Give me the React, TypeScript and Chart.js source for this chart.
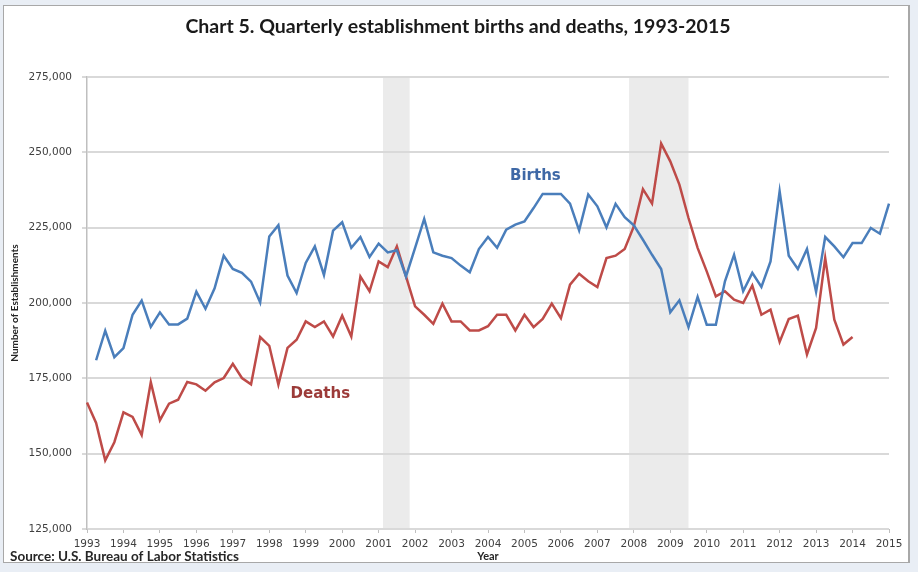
import React, { useEffect, useRef } from 'react';
import { Chart, registerables } from 'chart.js';

Chart.register(...registerables);

// ---- Data ----
const FIRST_YEAR = 1993;
const LAST_YEAR = 2015;
const QUARTER_COUNT = 89; // 1993 Q1 .. 2015 Q1

// Establishment births, quarterly, 1993 Q2 .. 2015 Q1
const BIRTHS = [
  181000, 190800, 182000, 185000, 196100, 200800, 192100, 196900, 192900, 192900,
  194800, 203800, 198100, 204900, 215700, 211300, 210000, 207100, 200200, 222100,
  225800, 209100, 203300, 213300, 218800, 209300, 224000, 226800, 218300, 221900,
  215300, 219700, 216800, 217500, 208800, 218300, 227900, 216800, 215700, 214900,
  212400, 210200, 217900, 221900, 218300, 224300, 226000, 227100, 231500, 236200,
  236200, 236200, 233000, 224100, 236000, 232100, 225100, 232900, 228500, 225800,
  221000, 216000, 211300, 196900, 200900, 192000, 202000, 192800, 192800, 207200,
  216000, 203900, 210000, 205300, 213800, 237100, 215700, 211300, 217900, 203700,
  221900, 218800, 215200, 219900, 219900, 224900, 223000, 233000,
];

// Establishment deaths, quarterly, 1993 Q1 .. 2014 Q1
const DEATHS = [
  167000, 160200, 147800, 153800, 163700, 162200, 156200, 173700, 161100, 166600,
  167900, 173800, 173000, 170900, 173700, 175100, 179800, 175100, 173000, 188700,
  185800, 172900, 185100, 187800, 193900, 192000, 193900, 188900, 195800, 188900,
  208800, 203900, 213800, 211900, 218800, 208800, 198900, 196100, 193100, 199800,
  193900, 193900, 190900, 190900, 192300, 196100, 196100, 190900, 196100, 192000,
  194700, 199800, 195000, 206100, 209700, 207200, 205300, 214900, 215700, 217900,
  225400, 237800, 233000, 252900, 247000, 239300, 228200, 218300, 210500, 202200,
  203900, 201100, 200000, 205800, 196100, 197800, 187100, 194700, 195800, 182900,
  191700, 214900, 194500, 186200, 188700,
];

// Recessions (fractional years)
const RECESSION_STARTS = [2001.12, 2007.87];
const RECESSION_ENDS = [2001.85, 2009.5];

const Y_MIN = 125000;
const Y_MAX = 275000;
const Y_STEP = 25000;

// Series label anchors (quarter index, value)
const BIRTHS_LABEL_AT = [49.2, 242200];
const DEATHS_LABEL_AT = [25.6, 169700];

const TITLE = 'Chart 5. Quarterly establishment births and deaths, 1993-2015';
const SOURCE = 'Source: U.S. Bureau of Labor Statistics';

// ---- Derived tables ----
const QUARTERS: string[] = [];
for (let y = FIRST_YEAR; y <= LAST_YEAR; y++) {
  for (let q = 1; q <= 4; q++) QUARTERS.push(`${y} Q${q}`);
}
const LABELS = QUARTERS.slice(0, QUARTER_COUNT);
const BIRTHS_SERIES = [null, ...BIRTHS];
const DEATHS_SERIES = [...DEATHS];

const BLUE = '#4a7ebb';
const RED = '#be4b48';
const FONT = 'Lato, "DejaVu Sans", sans-serif';
const WIDE = '"DejaVu Sans", sans-serif';

const overlay = {
  id: 'overlay',
  beforeDraw(chart: any) {
    const { ctx, chartArea, scales } = chart;
    ctx.save();
    ctx.fillStyle = '#ebebeb';
    for (let i = 0; i < RECESSION_STARTS.length; i++) {
      const a = scales.x.getPixelForValue((RECESSION_STARTS[i] - FIRST_YEAR) * 4);
      const b = scales.x.getPixelForValue((RECESSION_ENDS[i] - FIRST_YEAR) * 4);
      ctx.fillRect(a, chartArea.top, b - a, chartArea.bottom - chartArea.top);
    }
    ctx.restore();
  },
  afterDatasetsDraw(chart: any) {
    const { ctx, scales } = chart;
    ctx.save();
    ctx.textAlign = 'center';
    ctx.textBaseline = 'middle';
    ctx.font = `bold 15px ${WIDE}`;
    ctx.fillStyle = '#3e68a6';
    ctx.fillText('Births', scales.x.getPixelForValue(BIRTHS_LABEL_AT[0]), scales.y.getPixelForValue(BIRTHS_LABEL_AT[1]));
    ctx.fillStyle = '#9c3b39';
    ctx.fillText('Deaths', scales.x.getPixelForValue(DEATHS_LABEL_AT[0]), scales.y.getPixelForValue(DEATHS_LABEL_AT[1]));
    ctx.restore();
  },
  afterDraw(chart: any) {
    const { ctx } = chart;
    ctx.save();
    ctx.textBaseline = 'middle';
    ctx.textAlign = 'center';
    ctx.font = `bold 19.5px ${FONT}`;
    ctx.fillStyle = '#1a1a1a';
    ctx.fillText(TITLE, 458, 27);
    ctx.textAlign = 'left';
    ctx.font = `bold 13.5px ${FONT}`;
    ctx.fillStyle = '#262626';
    ctx.fillText(SOURCE, 10, 557);
    ctx.restore();
  },
};

export default function App() {
  const ref = useRef<HTMLCanvasElement>(null);

  useEffect(() => {
    if (!ref.current) return;
    const chart = new Chart(ref.current, {
      type: 'line',
      data: {
        labels: LABELS,
        datasets: [
          {
            label: 'Births',
            data: BIRTHS_SERIES,
            borderColor: BLUE,
            backgroundColor: BLUE,
            borderWidth: 2.5,
            pointRadius: 0,
            tension: 0,
          },
          {
            label: 'Deaths',
            data: DEATHS_SERIES,
            borderColor: RED,
            backgroundColor: RED,
            borderWidth: 2.5,
            pointRadius: 0,
            tension: 0,
          },
        ],
      },
      options: {
        responsive: false,
        animation: false,
        layout: { padding: { top: 77, right: 29, bottom: 0, left: 0 } },
        plugins: {
          legend: { display: false },
          tooltip: { enabled: false },
          title: { display: false },
        },
        scales: {
          x: {
            type: 'category',
            offset: false,
            border: { display: false },
            grid: {
              drawOnChartArea: false,
              drawTicks: true,
              tickLength: 4,
              lineWidth: 1,
              color: (c: any) => (c.index % 4 === 0 ? '#bfbfbf' : 'rgba(0,0,0,0)'),
            },
            ticks: {
              autoSkip: false,
              maxRotation: 0,
              minRotation: 0,
              padding: 5,
              color: '#404040',
              font: { family: WIDE, size: 10.5 },
              callback: (_v: any, i: number) => (i % 4 === 0 ? LABELS[i].slice(0, 4) : ''),
            },
            title: {
              display: true,
              text: 'Year',
              color: '#262626',
              font: { family: FONT, size: 11, weight: 'bold' },
              padding: { top: 0, bottom: 9 },
            },
            afterFit: (s: any) => {
              s.height = 43;
            },
          },
          y: {
            min: Y_MIN,
            max: Y_MAX,
            border: { display: true, color: '#bfbfbf', width: 1.5 },
            grid: { color: '#d9d9d9', lineWidth: 2, tickLength: 5 },
            ticks: {
              stepSize: Y_STEP,
              padding: 10,
              color: '#404040',
              font: { family: WIDE, size: 10.5 },
              callback: (v: any) => Number(v).toLocaleString('en-US'),
            },
            title: {
              display: true,
              text: 'Number of Establishments',
              color: '#262626',
              font: { family: FONT, size: 10, weight: 'bold' },
              padding: { top: 9, bottom: 0 },
            },
            afterFit: (s: any) => {
              s.width = 87;
            },
          },
        },
      },
      plugins: [overlay],
    });
    return () => chart.destroy();
  }, []);

  return (
    <div style={{ position: 'fixed', left: 0, top: 0, width: 918, height: 572, background: '#e9eef5', overflow: 'hidden' }}>
      <div
        style={{
          position: 'absolute',
          left: 3,
          top: 5,
          width: 907,
          height: 558,
          boxSizing: 'border-box',
          background: '#ffffff',
          border: '1px solid #a8a8a8',
          borderRightWidth: 2,
        }}
      />
      <canvas ref={ref} width={918} height={572} style={{ position: 'absolute', left: 0, top: 0, width: 918, height: 572 }} />
    </div>
  );
}
